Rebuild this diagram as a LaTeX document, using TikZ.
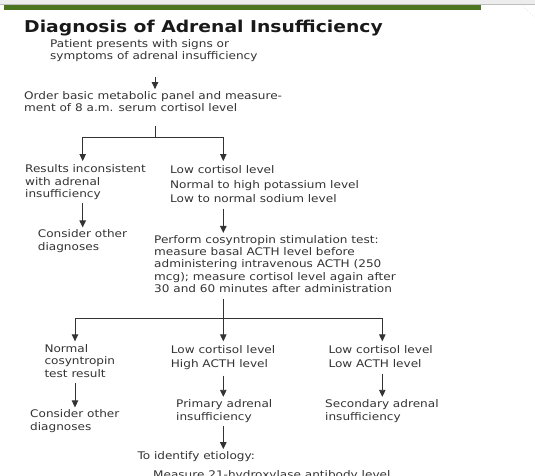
\documentclass[tikz,border=0pt]{standalone}
\usepackage{fontspec}
\setmainfont{DejaVu Sans}[FakeStretch=1.15]
\usetikzlibrary{arrows.meta}
\definecolor{barGreen}{HTML}{4B761F}
\definecolor{ink}{HTML}{333333}

\begin{document}
\begin{tikzpicture}[
  x=1pt, y=-1pt,
  note/.style={anchor=base west, align=left, inner sep=0pt, text=ink,
               font=\fontsize{10.5}{12.4}\selectfont},
  list/.style={note, font=\fontsize{10.5}{14.6}\selectfont},
  heading/.style={anchor=base west, inner sep=0pt, text=black!90,
                  font=\fontsize{16.3}{18}\selectfont\bfseries},
  wire/.style={line width=0.9pt, ink},
  flow/.style={wire, -{Triangle[length=7pt, width=6.5pt]}}
]
\useasboundingbox (0,0) rectangle (535,476);

% top band
\fill[black!7] (0,0) rectangle (535,4.5);
\draw[black!25, line width=0.6pt] (0,4.5) -- (535,4.5);
\fill[barGreen] (4,5) rectangle (481,10);
\draw[black!25, dotted] (522,5) -- (535,18);

% ====== TEXT (placed at the baseline of the last line) ======
\node[heading] (title) at (24,33) {Diagnosis of Adrenal Insufficiency};
\node[note] (patient) at (50,59.8) {Patient presents with signs or\\symptoms of adrenal insufficiency};
\node[note] (order) at (24,112) {Order basic metabolic panel and measure-\\ment of 8 a.m. serum cortisol level};

\node[note] (incons) at (25,197.7) {Results inconsistent\\with adrenal\\insufficiency};
\node[list] (labs) at (170,202.7) {Low cortisol level\\Normal to high potassium level\\Low to normal sodium level};
\node[note] (other1) at (37.7,250) {Consider other\\diagnoses};
\node[note] (cosyn) at (154,292.7) {Perform cosyntropin stimulation test:\\measure basal ACTH level before\\administering intravenous ACTH (250\\mcg); measure cortisol level again after\\30 and 60 minutes after administration};

\node[note] (normal) at (44.3,377.3) {Normal\\cosyntropin\\test result};
\node[list] (highacth) at (170.7,367.7) {Low cortisol level\\High ACTH level};
\node[list] (lowacth) at (328.3,367.7) {Low cortisol level\\Low ACTH level};
\node[note] (other2) at (30,430) {Consider other\\diagnoses};
\node[note] (primary) at (176,420) {Primary adrenal\\insufficiency};
\node[note] (secondary) at (325,420) {Secondary adrenal\\insufficiency};
\node[note] (etiology) at (137.3,459.3) {To identify etiology:};
\node[note] (measure) at (153,478) {Measure 21-hydroxylase antibody level};

% ====== CONNECTORS ======
\coordinate (colL) at (82.7,0);
\coordinate (colM) at (223.3,0);
\coordinate (split1) at (155,137);
\coordinate (split2) at (223.3,318.3);
\coordinate (colA) at (75,0);
\coordinate (colC) at (382.3,0);

\draw[flow, shorten <=15pt, shorten >=2.3pt] (patient.south -| split1) -- (order.north -| split1);

\draw[wire, shorten <=13.3pt] (order.south -| split1) -- (split1);
\draw[flow, shorten >=3.7pt] (split1) -| (incons.north -| colL);
\draw[flow, shorten >=4.3pt] (split1) -| (labs.north -| colM);
\draw[flow, shorten <=3.1pt, shorten >=2pt] (incons.south -| colL) -- (other1.north -| colL);
\draw[flow, shorten <=5.6pt, shorten >=2pt] (labs.south -| colM) -- (cosyn.north -| colM);

\draw[wire, shorten <=5.6pt] (cosyn.south -| split2) -- (split2);
\draw[flow, shorten >=3pt] (split2) -| (normal.north -| colA);
\draw[flow, shorten >=3.6pt] (split2) -- (highacth.north -| split2);
\draw[flow, shorten >=3.6pt] (split2) -| (lowacth.north -| colC);

\draw[flow, shorten <=5.4pt, shorten >=2pt] (normal.south -| colA) -- (other2.north -| colA);
\draw[flow, shorten <=5.6pt, shorten >=2.6pt] (highacth.south -| colM) -- (primary.north -| colM);
\draw[flow, shorten <=5.6pt, shorten >=2.6pt] (lowacth.south -| colC) -- (secondary.north -| colC);
\draw[flow, shorten <=3.5pt, shorten >=2pt] (primary.south -| colM) -- (etiology.north -| colM);
\end{tikzpicture}
\end{document}
